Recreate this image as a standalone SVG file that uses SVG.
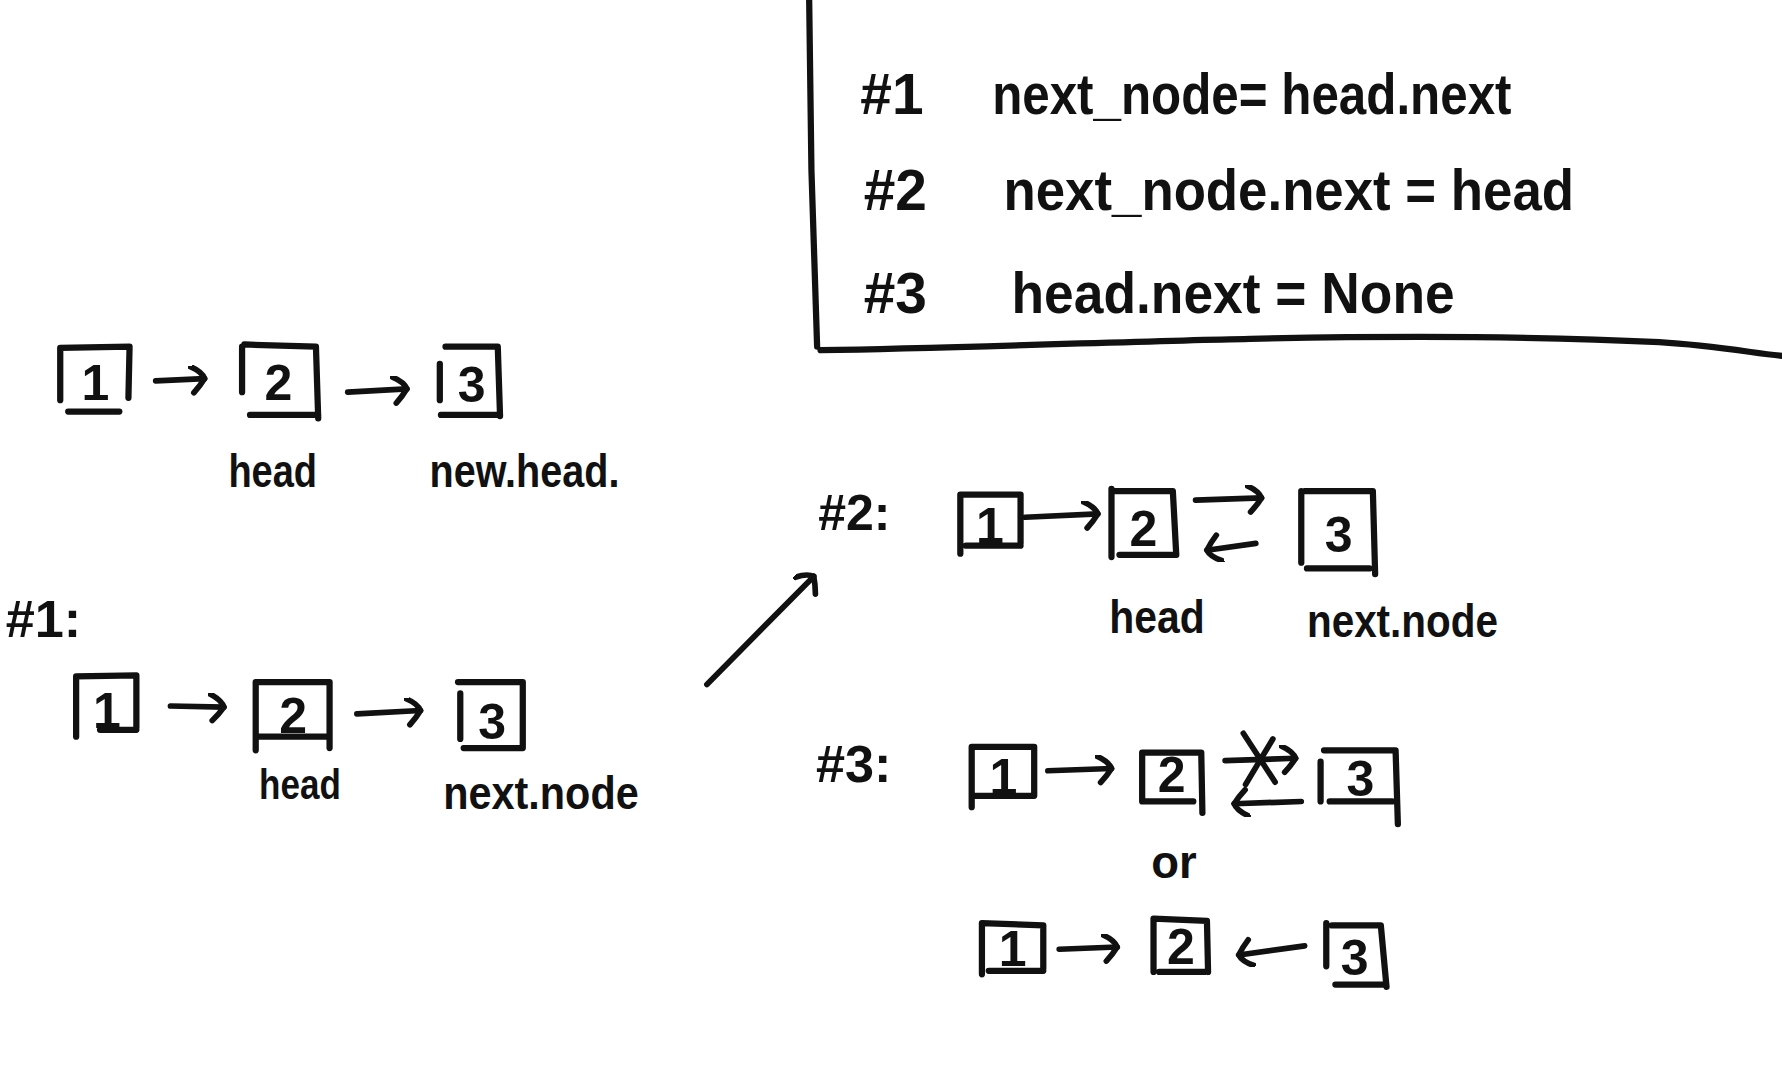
<svg xmlns="http://www.w3.org/2000/svg" width="1782" height="1080" viewBox="0 0 1782 1080">
<style>
.bx{fill:none;stroke:#111;stroke-width:5.5;stroke-linecap:round;stroke-linejoin:round}
.ln{fill:none;stroke:#111;stroke-width:5;stroke-linecap:round;stroke-linejoin:round}
.t{font-family:"Liberation Sans","DejaVu Sans",sans-serif;font-weight:bold;fill:#111}
.num{font-family:"Liberation Sans","DejaVu Sans",sans-serif;font-weight:bold;fill:#111;text-anchor:middle;font-size:44px}
</style>
<defs>
<marker id="hk" markerUnits="userSpaceOnUse" markerWidth="26" markerHeight="30" refX="14" refY="12" orient="auto">
<path d="M2 1 Q12 6 14 12 Q10 18 4 24" fill="none" stroke="#111" stroke-width="5" stroke-linecap="round"/>
</marker>
</defs>
<rect width="1782" height="1080" fill="#fff"/>
<g transform="scale(1.13648 1.13684)">
<!-- code frame -->
<g id="code">
<path class="bx" d="M712 0 L714 150 L719 305"/>
<path class="bx" d="M722 308 C850 306 1000 300 1100 298 C1250 295 1380 297 1460 301 C1510 304 1545 311 1568 313"/>
<text class="t" x="757" y="100" font-size="50">#1</text>
<text class="t" x="873" y="100" font-size="50" textLength="457" lengthAdjust="spacingAndGlyphs">next_node= head.next</text>
<text class="t" x="760" y="185" font-size="50">#2</text>
<text class="t" x="883" y="185" font-size="50" textLength="502" lengthAdjust="spacingAndGlyphs">next_node.next = head</text>
<text class="t" x="760" y="275" font-size="50">#3</text>
<text class="t" x="890" y="275" font-size="50" textLength="390" lengthAdjust="spacingAndGlyphs">head.next = None</text>
</g>
<!-- initial list -->
<g id="init-1"><path class="bx" d="M53 352 L53 306 L114 305 L113 350 M60 362 L105 362"/><text class="num" x="84" y="352">1</text></g>
<g id="init-2"><path class="bx" d="M213 345 L213 305 M215 303 L278 305 L280 368 M220 365 L280 365"/><text class="num" x="245" y="352">2</text></g>
<g id="init-3"><path class="bx" d="M387 352 L387 320 M392 305 L438 305 L440 366 M388 365 L440 365"/><text class="num" x="415" y="354">3</text></g>
<text id="lbl-head-0" class="t" x="240" y="428" font-size="40" text-anchor="middle" textLength="78" lengthAdjust="spacingAndGlyphs">head</text>
<text id="lbl-newhead" class="t" x="378" y="428" font-size="40" textLength="167" lengthAdjust="spacingAndGlyphs">new.head.</text>
<!-- step 1 -->
<text id="lbl-s1" class="t" x="5" y="560" font-size="46">#1:</text>
<g id="s1-1"><path class="bx" d="M67 648 L67 595 L120 594 L120 640 M88 642 L120 642"/><text class="num" x="94" y="640">1</text></g>
<g id="s1-2"><path class="bx" d="M225 660 L225 600 L290 600 L290 658 M227 648 L290 648"/><text class="num" x="258" y="645">2</text></g>
<g id="s1-3"><path class="bx" d="M405 650 L405 610 M403 600 L460 600 L460 658 M408 658 L460 658"/><text class="num" x="433" y="650">3</text></g>
<text id="lbl-head-1" class="t" x="264" y="703" font-size="38" text-anchor="middle" textLength="72" lengthAdjust="spacingAndGlyphs">head</text>
<text id="lbl-next-1" class="t" x="390" y="712" font-size="40" textLength="172" lengthAdjust="spacingAndGlyphs">next.node</text>
<!-- step 2 -->
<text id="lbl-s2" class="t" x="720" y="466" font-size="44">#2:</text>
<g id="s2-1"><path class="bx" d="M845 487 L845 435 L898 435 L898 478 M850 480 L898 480"/><text class="num" x="871" y="478">1</text></g>
<g id="s2-2"><path class="bx" d="M978 490 L978 430 M980 432 L1032 432 L1035 488 M985 488 L1033 488"/><text class="num" x="1006" y="480">2</text></g>
<g id="s2-3"><path class="bx" d="M1145 495 L1145 432 M1148 432 L1208 432 L1210 505 M1150 500 L1205 500"/><text class="num" x="1178" y="486" font-size="50">3</text></g>
<text id="lbl-head-2" class="t" x="1018" y="557" font-size="40" text-anchor="middle" textLength="84" lengthAdjust="spacingAndGlyphs">head</text>
<text id="lbl-next-2" class="t" x="1150" y="560" font-size="40" textLength="168" lengthAdjust="spacingAndGlyphs">next.node</text>
<!-- step 3 -->
<text id="lbl-s3" class="t" x="718" y="688" font-size="46">#3:</text>
<g id="s3-1"><path class="bx" d="M855 710 L855 657 L910 657 L910 700 M857 700 L910 700"/><text class="num" x="883" y="698">1</text></g>
<g id="s3-2"><path class="bx" d="M1005 705 L1005 662 L1057 662 L1058 715 M1007 705 L1050 705"/><text class="num" x="1031" y="697" font-size="32">2</text></g>
<g id="s3-3"><path class="bx" d="M1162 705 L1162 670 M1165 660 L1228 660 L1230 725 M1170 705 L1225 705"/><text class="num" x="1197" y="700" font-size="50">3</text></g>
<text id="lbl-or" class="t" x="1033" y="772" font-size="40" text-anchor="middle">or</text>
<g id="s3b-1"><path class="bx" d="M864 857 L864 812 L918 814 L918 852 M870 854 L918 854"/><text class="num" x="891" y="850">1</text></g>
<g id="s3b-2"><path class="bx" d="M1015 855 L1015 808 L1062 810 L1063 855 M1020 855 L1060 855"/><text class="num" x="1039" y="848">2</text></g>
<g id="s3b-3"><path class="bx" d="M1167 850 L1167 812 M1172 814 L1215 814 L1220 868 M1175 866 L1218 866"/><text class="num" x="1192" y="858" font-size="48">3</text></g>
<!-- connectors -->
<g id="connectors">
<path class="ln" d="M137 335 L180 333" marker-end="url(#hk)"/>
<path class="ln" d="M306 345 L358 342" marker-end="url(#hk)"/>
<path class="ln" d="M150 621 L197 622" marker-end="url(#hk)"/>
<path class="ln" d="M314 628 L370 625" marker-end="url(#hk)"/>
<path class="ln" d="M622 602 L716 507" marker-end="url(#hk)"/>
<path class="ln" d="M902 455 L966 452" marker-end="url(#hk)"/>
<path class="ln" d="M1052 440 L1110 438" marker-end="url(#hk)"/>
<path class="ln" d="M1105 478 L1062 484" marker-end="url(#hk)"/>
<path class="ln" d="M922 678 L978 676" marker-end="url(#hk)"/>
<path class="ln" d="M1078 669 L1140 667" marker-end="url(#hk)"/>
<path class="ln" d="M1094 645 L1122 688 M1120 650 L1096 690"/>
<path class="ln" d="M1145 705 L1086 707" marker-end="url(#hk)"/>
<path class="ln" d="M932 835 L983 833" marker-end="url(#hk)"/>
<path class="ln" d="M1148 832 L1090 840" marker-end="url(#hk)"/>
</g>
</g>
</svg>
